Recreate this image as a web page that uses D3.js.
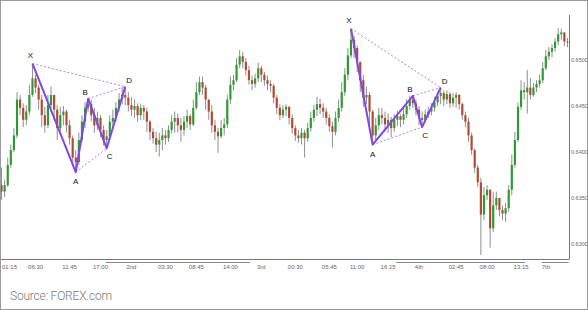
<!DOCTYPE html>
<html>
<head>
<meta charset="utf-8">
<script src="https://cdn.jsdelivr.net/npm/d3@7"></script>
<style>
  body { margin: 0; background: #fff; }
  svg { display: block; }
</style>
</head>
<body>
<div class="canvas"></div>
<script>
/*--------------------------------
  DATA (30 min candles, open = previous close)
--------------------------------*/
const openPrice = 0.6364;

const closes = [
  0.6357, 0.6364, 0.6386, 0.6402, 0.6418, 0.6457, 0.6448, 0.6435, 0.6444, 0.6462,
  0.6480, 0.6470, 0.6457, 0.6440, 0.6429, 0.6451, 0.6462, 0.6446, 0.6426, 0.6440,
  0.6444, 0.6429, 0.6415, 0.6394, 0.6389, 0.6413, 0.6433, 0.6448, 0.6452, 0.6440,
  0.6429, 0.6437, 0.6424, 0.6413, 0.6417, 0.6433, 0.6437, 0.6448, 0.6457, 0.6462,
  0.6459, 0.6451, 0.6446, 0.6450, 0.6440, 0.6448, 0.6444, 0.6433, 0.6422, 0.6415,
  0.6408, 0.6413, 0.6418, 0.6415, 0.6424, 0.6433, 0.6437, 0.6429, 0.6424, 0.6433,
  0.6439, 0.6430, 0.6448, 0.6465, 0.6476, 0.6470, 0.6457, 0.6444, 0.6429, 0.6422,
  0.6417, 0.6426, 0.6430, 0.6457, 0.6473, 0.6478, 0.6495, 0.6504, 0.6498, 0.6489,
  0.6478, 0.6474, 0.6480, 0.6491, 0.6484, 0.6478, 0.6474, 0.6472, 0.6459, 0.6448,
  0.6440, 0.6446, 0.6449, 0.6437, 0.6426, 0.6418, 0.6415, 0.6421, 0.6415, 0.6426,
  0.6437, 0.6446, 0.6452, 0.6448, 0.6444, 0.6437, 0.6428, 0.6422, 0.6437, 0.6448,
  0.6465, 0.6484, 0.6505, 0.6522, 0.6513, 0.6498, 0.6478, 0.6459, 0.6462, 0.6444,
  0.6418, 0.6429, 0.6440, 0.6437, 0.6430, 0.6435, 0.6426, 0.6435, 0.6439, 0.6435,
  0.6441, 0.6450, 0.6457, 0.6453, 0.6446, 0.6437, 0.6435, 0.6441, 0.6444, 0.6448,
  0.6454, 0.6461, 0.6464, 0.6457, 0.6463, 0.6453, 0.6459, 0.6462, 0.6452, 0.6440,
  0.6433, 0.6418, 0.6402, 0.6383, 0.6367, 0.6332, 0.6353, 0.6359, 0.6317, 0.6342,
  0.6350, 0.6337, 0.6333, 0.6339, 0.6359, 0.6386, 0.6413, 0.6449, 0.6467, 0.6465,
  0.6470, 0.6462, 0.6470, 0.6474, 0.6478, 0.6491, 0.6504, 0.6509, 0.6513, 0.6520,
  0.6528, 0.6530, 0.6520, 0.6519,
];

const highs = [
  0.6383, 0.6370, 0.6394, 0.6408, 0.6426, 0.6465, 0.6462, 0.6453, 0.6451, 0.6473,
  0.6496, 0.6484, 0.6473, 0.6462, 0.6449, 0.6462, 0.6471, 0.6460, 0.6451, 0.6449,
  0.6450, 0.6446, 0.6435, 0.6418, 0.6402, 0.6421, 0.6440, 0.6454, 0.6458, 0.6457,
  0.6448, 0.6444, 0.6440, 0.6429, 0.6424, 0.6440, 0.6446, 0.6454, 0.6464, 0.6470,
  0.6471, 0.6465, 0.6460, 0.6457, 0.6453, 0.6452, 0.6451, 0.6448, 0.6435, 0.6426,
  0.6422, 0.6421, 0.6426, 0.6424, 0.6429, 0.6440, 0.6444, 0.6442, 0.6437, 0.6439,
  0.6446, 0.6441, 0.6457, 0.6476, 0.6482, 0.6482, 0.6473, 0.6457, 0.6451, 0.6435,
  0.6426, 0.6435, 0.6437, 0.6462, 0.6482, 0.6484, 0.6502, 0.6511, 0.6509, 0.6502,
  0.6494, 0.6483, 0.6485, 0.6497, 0.6494, 0.6487, 0.6483, 0.6478, 0.6474, 0.6462,
  0.6452, 0.6451, 0.6452, 0.6450, 0.6441, 0.6429, 0.6424, 0.6426, 0.6424, 0.6432,
  0.6444, 0.6451, 0.6460, 0.6458, 0.6453, 0.6448, 0.6441, 0.6433, 0.6444, 0.6457,
  0.6476, 0.6491, 0.6513, 0.6534, 0.6526, 0.6516, 0.6498, 0.6484, 0.6471, 0.6465,
  0.6446, 0.6437, 0.6448, 0.6448, 0.6444, 0.6442, 0.6438, 0.6441, 0.6445, 0.6441,
  0.6448, 0.6457, 0.6461, 0.6461, 0.6457, 0.6450, 0.6444, 0.6446, 0.6449, 0.6453,
  0.6460, 0.6465, 0.6470, 0.6467, 0.6467, 0.6465, 0.6464, 0.6465, 0.6463, 0.6454,
  0.6444, 0.6437, 0.6421, 0.6404, 0.6386, 0.6372, 0.6362, 0.6364, 0.6359, 0.6357,
  0.6357, 0.6348, 0.6342, 0.6345, 0.6364, 0.6397, 0.6422, 0.6454, 0.6478, 0.6476,
  0.6489, 0.6480, 0.6475, 0.6478, 0.6484, 0.6498, 0.6511, 0.6514, 0.6517, 0.6524,
  0.6535, 0.6534, 0.6529, 0.6524,
];

const lows = [
  0.6348, 0.6351, 0.6362, 0.6383, 0.6400, 0.6415, 0.6440, 0.6427, 0.6429, 0.6440,
  0.6460, 0.6464, 0.6446, 0.6427, 0.6421, 0.6426, 0.6448, 0.6435, 0.6413, 0.6422,
  0.6429, 0.6421, 0.6408, 0.6386, 0.6378, 0.6386, 0.6410, 0.6426, 0.6444, 0.6433,
  0.6421, 0.6424, 0.6416, 0.6407, 0.6404, 0.6413, 0.6427, 0.6433, 0.6444, 0.6452,
  0.6451, 0.6444, 0.6439, 0.6437, 0.6433, 0.6435, 0.6435, 0.6422, 0.6413, 0.6409,
  0.6400, 0.6395, 0.6402, 0.6408, 0.6411, 0.6420, 0.6421, 0.6421, 0.6411, 0.6418,
  0.6426, 0.6424, 0.6428, 0.6446, 0.6462, 0.6462, 0.6446, 0.6435, 0.6421, 0.6413,
  0.6399, 0.6415, 0.6418, 0.6426, 0.6452, 0.6467, 0.6476, 0.6491, 0.6491, 0.6483,
  0.6473, 0.6467, 0.6470, 0.6476, 0.6476, 0.6472, 0.6467, 0.6465, 0.6453, 0.6441,
  0.6435, 0.6437, 0.6439, 0.6430, 0.6420, 0.6412, 0.6410, 0.6408, 0.6394, 0.6411,
  0.6422, 0.6433, 0.6439, 0.6441, 0.6437, 0.6430, 0.6422, 0.6405, 0.6418, 0.6433,
  0.6444, 0.6461, 0.6478, 0.6502, 0.6502, 0.6487, 0.6465, 0.6449, 0.6452, 0.6429,
  0.6408, 0.6413, 0.6424, 0.6430, 0.6422, 0.6421, 0.6416, 0.6422, 0.6428, 0.6427,
  0.6430, 0.6437, 0.6446, 0.6448, 0.6440, 0.6429, 0.6427, 0.6432, 0.6437, 0.6440,
  0.6444, 0.6450, 0.6452, 0.6450, 0.6452, 0.6448, 0.6449, 0.6448, 0.6446, 0.6435,
  0.6427, 0.6411, 0.6397, 0.6377, 0.6362, 0.6288, 0.6326, 0.6348, 0.6296, 0.6313,
  0.6337, 0.6330, 0.6326, 0.6324, 0.6335, 0.6353, 0.6383, 0.6411, 0.6446, 0.6457,
  0.6442, 0.6457, 0.6460, 0.6465, 0.6470, 0.6475, 0.6489, 0.6500, 0.6503, 0.6509,
  0.6516, 0.6522, 0.6515, 0.6514,
];

// price axis
const yTicks = [0.6300, 0.6350, 0.6400, 0.6450, 0.6500];

// time axis: candle index -> label
const tickIdx = [1, 11, 22, 32, 42, 53, 63, 74, 84, 95, 106, 115, 125, 135, 147, 157, 168, 176];
const tickLabels = ['01:15', '06:30', '11:45', '17:00', '2nd', '03:30', '08:45', '14:00', '3rd',
  '00:30', '05:45', '11:00', '16:15', '4th', '02:45', '08:00', '13:15', '7th'];

// day marker bars under the axis [first candle, last candle]
const dayBars = [[34, 80], [128, 169], [175, 183]];

// XABCD patterns: candle index of each point (X high, A low, B high, C low, D high)
const patternNames = ['X', 'A', 'B', 'C', 'D'];
const pattern1Idx = [10, 24, 28, 34, 40];
const pattern2Idx = [113, 120, 133, 136, 142];

/*--------------------------------
  SETUP
--------------------------------*/
const width = 588;
const height = 310;
const plotRight = 569;
const plotTop = 15;
const plotBottom = 259;

const svg = d3.select('.canvas')
  .append('svg')
  .attr('width', width)
  .attr('height', height)
  .style('font-family', '"Liberation Sans", Arial, sans-serif');

const candles = closes.map((c, i) => {
  const o = i === 0 ? openPrice : closes[i - 1];
  return {
    i, o, c,
    h: Math.max(highs[i], o, c),
    l: Math.min(lows[i], o, c),
  };
});

// scales
const x = d3.scaleBand()
  .domain(d3.range(candles.length))
  .range([0, plotRight])
  .paddingInner(0.3)
  .paddingOuter(0.15);

const y = d3.scaleLinear()
  .domain([0.6300, 0.6500])
  .range([244, 60]);

const cx = i => x(i) + x.bandwidth() / 2;

/*--------------------------------
  CANDLES
--------------------------------*/
const g = svg.append('g');

g.selectAll('line.wick')
  .data(candles)
  .enter()
  .append('line')
  .attr('class', 'wick')
  .attr('x1', d => cx(d.i))
  .attr('x2', d => cx(d.i))
  .attr('y1', d => y(d.h))
  .attr('y2', d => y(d.l))
  .attr('stroke', '#8f8f8f')
  .attr('stroke-width', 1);

g.selectAll('rect.body')
  .data(candles)
  .enter()
  .append('rect')
  .attr('class', 'body')
  .attr('x', d => x(d.i))
  .attr('width', x.bandwidth())
  .attr('y', d => y(Math.max(d.o, d.c)))
  .attr('height', d => Math.max(1, Math.abs(y(d.o) - y(d.c))))
  .attr('fill', d => (d.c >= d.o ? '#2e9a34' : '#b04a30'));

/*--------------------------------
  PATTERNS
--------------------------------*/
const pointsOf = idx => idx.map((k, j) => ({
  name: patternNames[j],
  x: cx(k),
  y: y(j % 2 === 0 ? candles[k].h : candles[k].l),
}));

const labelOffset = {
  X: [-2, -6], A: [0, 12], B: [-3, -4], C: [3, 11], D: [4, -4],
};

[pattern1Idx, pattern2Idx].forEach((idx) => {
  const p = pointsOf(idx);
  const pg = svg.append('g');

  // dotted guides X-D, A-C, B-D
  [[0, 4], [1, 3], [2, 4]].forEach(([a, b]) => {
    pg.append('line')
      .attr('x1', p[a].x).attr('y1', p[a].y)
      .attr('x2', p[b].x).attr('y2', p[b].y)
      .attr('stroke', '#a38ae6')
      .attr('stroke-width', 1)
      .attr('stroke-dasharray', '2,2');
  });

  pg.append('path')
    .datum(p)
    .attr('d', d3.line().x(d => d.x).y(d => d.y))
    .attr('fill', 'none')
    .attr('stroke', '#8147e3')
    .attr('stroke-width', 2)
    .attr('stroke-linejoin', 'round');

  pg.selectAll('text')
    .data(p)
    .enter()
    .append('text')
    .attr('x', d => d.x + labelOffset[d.name][0])
    .attr('y', d => d.y + labelOffset[d.name][1])
    .attr('text-anchor', 'middle')
    .attr('font-size', 8)
    .attr('fill', '#111')
    .text(d => d.name);
});

/*--------------------------------
  AXES
--------------------------------*/
svg.append('line')
  .attr('x1', plotRight + 0.5).attr('x2', plotRight + 0.5)
  .attr('y1', plotTop).attr('y2', plotBottom)
  .attr('stroke', '#777');

svg.append('line')
  .attr('x1', 0).attr('x2', plotRight + 0.5)
  .attr('y1', plotBottom + 0.5).attr('y2', plotBottom + 0.5)
  .attr('stroke', '#777');

const yAxis = d3.axisRight(y)
  .tickValues(yTicks)
  .tickSize(0)
  .tickPadding(1)
  .tickFormat(d3.format('.4f'));

const yAxisGroup = svg.append('g')
  .attr('transform', `translate(${plotRight + 1}, 0)`)
  .call(yAxis);
yAxisGroup.select('.domain').remove();
yAxisGroup.selectAll('text')
  .attr('font-size', 5.5)
  .attr('fill', '#666')
  .attr('font-family', '"Liberation Sans", Arial, sans-serif');

const xAxis = d3.axisBottom(x)
  .tickValues(tickIdx)
  .tickSize(0)
  .tickPadding(6)
  .tickFormat((d, k) => tickLabels[k]);

const xAxisGroup = svg.append('g')
  .attr('transform', `translate(0, ${plotBottom})`)
  .call(xAxis);
xAxisGroup.select('.domain').remove();
xAxisGroup.selectAll('text')
  .attr('font-size', 6)
  .attr('fill', '#666')
  .attr('font-family', '"Liberation Sans", Arial, sans-serif');

// keep the first time label inside the frame
xAxisGroup.selectAll('.tick')
  .filter((d, k) => k === 0)
  .select('text')
  .attr('text-anchor', 'start')
  .attr('x', 2 - cx(tickIdx[0]));

svg.selectAll('line.day')
  .data(dayBars)
  .enter()
  .append('line')
  .attr('class', 'day')
  .attr('x1', d => x(d[0]))
  .attr('x2', d => x(d[1]) + x.bandwidth())
  .attr('y1', plotBottom + 3.5)
  .attr('y2', plotBottom + 3.5)
  .attr('stroke', '#888')
  .attr('stroke-width', 1);

/*--------------------------------
  SOURCE + FRAME
--------------------------------*/
svg.append('text')
  .attr('x', 10)
  .attr('y', 300)
  .attr('font-family', 'Roboto, "Open Sans", sans-serif')
  .attr('font-weight', 300)
  .attr('font-size', 12)
  .attr('letter-spacing', -0.2)
  .attr('fill', '#7a7a7a')
  .text('Source: FOREX.com');

svg.append('rect')
  .attr('x', 0.5).attr('y', 0.5)
  .attr('width', width - 1).attr('height', height - 1)
  .attr('fill', 'none')
  .attr('stroke', '#9a9a9a');
</script>
</body>
</html>
